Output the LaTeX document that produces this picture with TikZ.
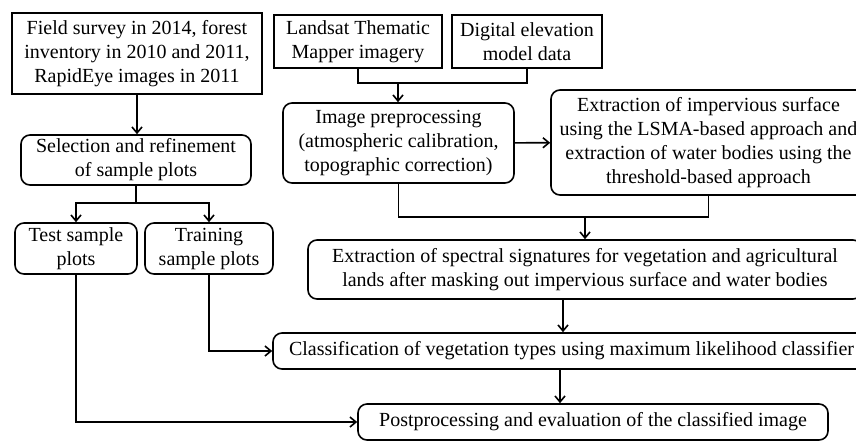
\documentclass[tikz,border=0pt]{standalone}
\usepackage{fontspec}
\setmainfont{Liberation Serif}
\usetikzlibrary{arrows.meta, positioning}

\begin{document}
\begin{tikzpicture}[
		x=1pt, y=-1pt,
		font=\fontsize{20}{24}\selectfont,
		% Define styles
		datanode/.style={rectangle, align=center, draw=black, line width=1.6pt, inner sep=1pt},
		process/.style={rectangle, align=center, draw=black, line width=1.6pt, rounded corners=9pt, inner sep=1pt},
		link/.style={line width=1.6pt},
		arrow/.style={line width=1.6pt,-{Straight Barb[length=6pt,width=10pt]}}
		]
		\useasboundingbox (0,0) rectangle (856,440);
		\clip (0,0) rectangle (856,440);
		
		% Input data
		\node (field) [datanode, minimum width=250pt, minimum height=81pt] at (137,53.5) {Field survey in 2014, forest\\inventory in 2010 and 2011,\\RapidEye images in 2011};
		\node (landsat) [datanode, minimum width=168pt, minimum height=53pt] at (358,41.5) {Landsat Thematic\\Mapper imagery};
		\node (dem) [datanode, minimum width=150pt, minimum height=53pt] at (527,41.5) {Digital elevation\\model data};
		
		% Image processing
		\node (preproc) [process, minimum width=231pt, minimum height=80pt] at (398.5,143) {Image preprocessing\\(atmospheric calibration,\\topographic correction)};
		\node (impervious) [process, minimum width=315pt, minimum height=105pt] at (708.5,142.5) {Extraction of impervious surface\\using the LSMA-based approach and\\extraction of water bodies using the\\threshold-based approach};
		
		% Sample plots
		\node (selection) [process, minimum width=230pt, minimum height=50pt] at (136,160) {Selection and refinement\\of sample plots};
		\node (test) [process, minimum width=122pt, minimum height=51pt] at (76,248.5) {Test sample\\plots};
		\node (training) [process, minimum width=128pt, minimum height=51pt] at (209,248.5) {Training\\sample plots};
		
		% Classification
		\node (spectral) [process, minimum width=554pt, minimum height=59pt] at (585,269.5) {Extraction of spectral signatures for vegetation and agricultural\\lands after masking out impervious surface and water bodies};
		\node (classif) [process, minimum width=597pt, minimum height=36pt] at (571.5,351) {Classification of vegetation types using maximum likelihood classifier};
		\node (post) [process, minimum width=470pt, minimum height=36pt] at (593,422) {Postprocessing and evaluation of the classified image};
		
		% Junctions
		\coordinate (join1) at (398,83);
		\coordinate (join2) at (585,217);
		\coordinate (join3) at (136,203);
		
		% Draw arrows
		\draw [arrow] (field.south) -- (field.south |- selection.north);
		\draw [link] (landsat.south) |- (join1) -| (dem.south);
		\draw [arrow] (join1) -- (join1 |- preproc.north);
		\draw [arrow] (preproc) -- (impervious);
		\draw [link] (preproc.south) |- (join2);
		\draw [link] (impervious.south) |- (join2);
		\draw [arrow] (join2) -- (join2 |- spectral.north);
		\draw [link] (selection.south) -- (join3);
		\draw [arrow] (join3) -| (test.north);
		\draw [arrow] (join3) -| (training.north);
		\draw [arrow] ([xshift=-22pt]spectral.south) -- ([xshift=-22pt]spectral.south |- classif.north);
		\draw [arrow] ([xshift=-11.5pt]classif.south) -- ([xshift=-11.5pt]classif.south |- post.north);
		\draw [arrow] (training.south) |- (classif.west);
		\draw [arrow] (test.south) |- (post.west);
		
	\end{tikzpicture}
\end{document}
